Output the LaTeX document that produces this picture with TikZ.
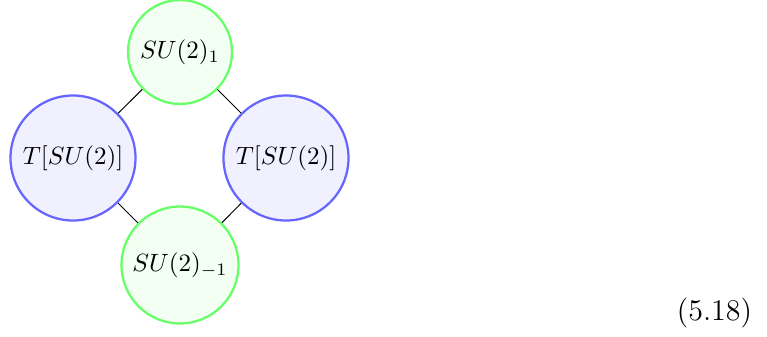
\documentclass[tikz,border=0pt]{standalone}
\begin{document}
\begin{tikzpicture}[x=0.4pt,y=-0.4pt,
  gnode/.style={circle,draw=green!60,fill=green!5,line width=0.9pt,inner sep=0pt},
  bnode/.style={circle,draw=blue!60,fill=blue!6,line width=0.9pt,inner sep=0pt},
  link/.style={draw=black,line width=0.4pt}]
\useasboundingbox (0,0) rectangle (767,336);
\node[gnode,minimum size=41.6pt] (top) at (180,52) {$SU(2)_1$};
\node[bnode,minimum size=50pt] (left) at (73,158) {$T[SU(2)]$};
\node[bnode,minimum size=50pt] (right) at (286,158) {$T[SU(2)]$};
\node[gnode,minimum size=46.8pt] (bot) at (180,265) {$SU(2)_{-1}$};
\draw[link] (top) -- (left);
\draw[link] (top) -- (right);
\draw[link] (bot) -- (left);
\draw[link] (bot) -- (right);
\node (eq) at (714.5,313) {\fontsize{12}{14}\selectfont (5.18)};
\end{tikzpicture}
\end{document}
